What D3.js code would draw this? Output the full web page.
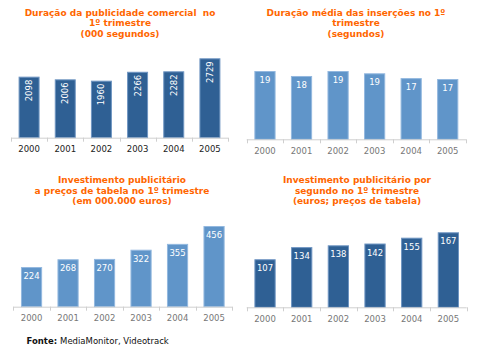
<!DOCTYPE html>
<html><head><meta charset="utf-8">
<script src="https://cdn.jsdelivr.net/npm/d3@7"></script>
<style>body{margin:0;background:#fff}svg{display:block}text{font-family:"DejaVu Sans",Verdana,sans-serif;white-space:pre}</style>
</head><body>
<script>
const years = ["2000","2001","2002","2003","2004","2005"];
const duracaoTotal = [2098, 2006, 1960, 2266, 2282, 2729];
const duracaoMedia = [19.2, 17.8, 19.2, 18.55, 17.2, 16.95];
const investimento = [224, 268, 270, 322, 355, 456];
const investPorSegundo = [107, 134, 138, 142, 155, 167];
const titles = [
  ["Duração da publicidade comercial  no", "1º trimestre", "(000 segundos)"],
  ["Duração média das inserções no 1º", "trimestre", "(segundos)"],
  ["Investimento publicitário", "a preços de tabela no 1º trimestre", "(em 000.000 euros)"],
  ["Investimento publicitário por", "segundo no 1º trimestre", "(euros; preços de tabela)"]
];
const fonte = "MediaMonitor, Videotrack";

const W = 477, H = 352;
const svg = d3.select("body").append("svg").attr("width", W).attr("height", H);

const dark = {fill:"#2f6094", stroke:"#6f95c2"};
const light = {fill:"#6095c9", stroke:"#93b8df"};

const panels = [
  {values: duracaoTotal, title: titles[0], tx:120, ty:15.5, x0:11, x1:228, base:137.7, top:58.3, col:dark, rot:true, yearCol:"#222"},
  {values: duracaoMedia, title: titles[1], tx:356, ty:15.5, x0:246.7, x1:466, base:139.3, top:71, col:light, rot:false, yearCol:"#777"},
  {values: investimento, title: titles[2], tx:122, ty:183, x0:13.3, x1:232.3, base:306.7, top:226, col:light, rot:false, yearCol:"#777"},
  {values: investPorSegundo, title: titles[3], tx:357, ty:183, x0:246.7, x1:466.7, base:307.3, top:232.3, col:dark, rot:false, yearCol:"#777"}
];

panels.forEach(p => {
  const g = svg.append("g");
  const x = d3.scaleBand().domain(years).range([p.x0, p.x1]).paddingInner(0.42).paddingOuter(0.21);
  const y = d3.scaleLinear().domain([0, d3.max(p.values)]).range([p.base, p.top]);
  const data = years.map((yr, i) => ({yr, v: p.values[i]}));

  // title
  g.append("text").attr("x", p.tx).attr("y", p.ty)
    .attr("text-anchor","middle").attr("fill","#ff6600")
    .attr("font-size", 9).attr("font-weight","bold")
    .selectAll("tspan").data(p.title).join("tspan")
    .attr("x", p.tx).attr("dy", (d,i) => i ? 10.5 : 0).text(d => d);

  // bars
  g.selectAll("rect").data(data).join("rect")
    .attr("x", d => x(d.yr) + 0.5).attr("y", d => y(d.v) + 0.5)
    .attr("width", x.bandwidth() - 1).attr("height", d => p.base - y(d.v) - 0.5)
    .attr("fill", p.col.fill).attr("stroke", p.col.stroke).attr("stroke-width", 1);

  // axis
  const ticks = d3.range(years.length + 1).map(i => p.x0 + i * (p.x1 - p.x0) / years.length);
  g.append("line").attr("x1", p.x0).attr("x2", p.x1).attr("y1", p.base + 0.5).attr("y2", p.base + 0.5)
    .attr("stroke", "#cfcfcf");
  g.selectAll("line.tk").data(ticks).join("line").attr("class","tk")
    .attr("x1", d => Math.round(d) + 0.5).attr("x2", d => Math.round(d) + 0.5)
    .attr("y1", p.base).attr("y2", p.base + 4).attr("stroke", "#cfcfcf");

  // year labels
  g.selectAll("text.yr").data(data).join("text").attr("class","yr")
    .attr("x", d => x(d.yr) + x.bandwidth()/2).attr("y", p.base + 14.5)
    .attr("text-anchor","middle").attr("font-size", 8.5).attr("fill", p.yearCol)
    .text(d => d.yr);

  // value labels
  const fmt = d3.format(".0f");
  if (p.rot) {
    g.selectAll("text.val").data(data).join("text").attr("class","val")
      .attr("transform", d => `translate(${x(d.yr) + x.bandwidth()/2 + 3},${y(d.v) + 3}) rotate(-90)`)
      .attr("text-anchor","end").attr("font-size", 8.5).attr("fill","#fff")
      .text(d => fmt(d.v));
  } else {
    g.selectAll("text.val").data(data).join("text").attr("class","val")
      .attr("x", d => x(d.yr) + x.bandwidth()/2).attr("y", d => y(d.v) + 12)
      .attr("text-anchor","middle").attr("font-size", 8.5).attr("fill","#fff")
      .text(d => fmt(d.v));
  }
});

const f = svg.append("text").attr("x", 26.5).attr("y", 344).attr("font-size", 8.5).attr("fill","#111");
f.append("tspan").attr("font-weight","bold").text("Fonte: ");
f.append("tspan").text(fonte);
</script>
</body></html>
